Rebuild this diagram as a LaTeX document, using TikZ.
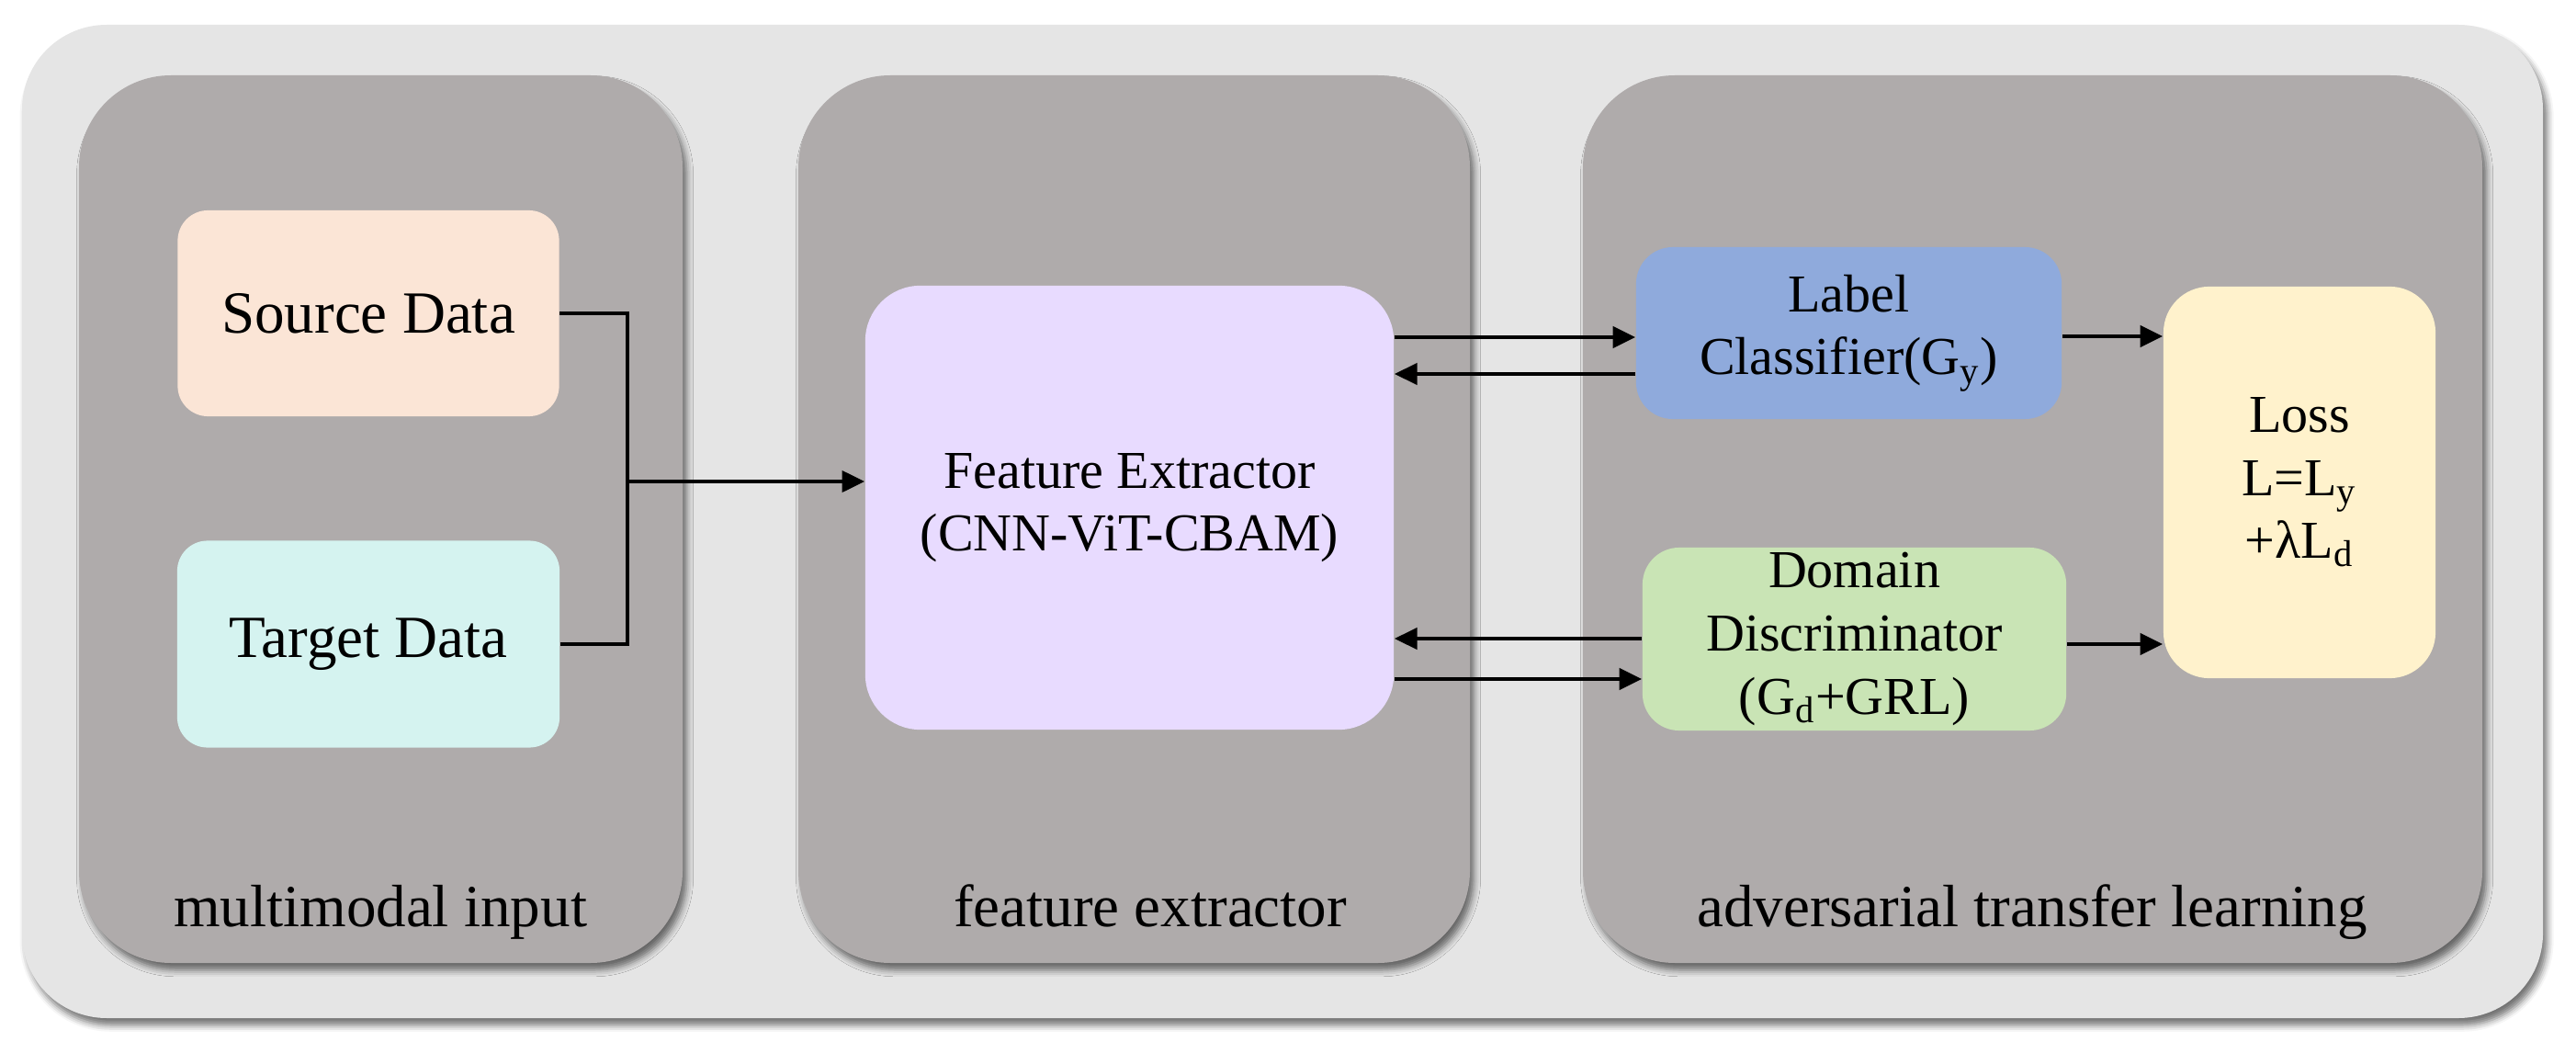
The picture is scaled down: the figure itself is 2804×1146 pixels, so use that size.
\documentclass[tikz,border=0pt]{standalone}
\usepackage{fontspec}
\setmainfont{Liberation Serif}
\usetikzlibrary{shadows.blur,arrows.meta}
\definecolor{outerfill}{HTML}{E5E5E5}
\definecolor{panelfill}{HTML}{AFABAB}
\definecolor{srcfill}{HTML}{FBE5D6}
\definecolor{tgtfill}{HTML}{D5F3F0}
\definecolor{fefill}{HTML}{E8DBFF}
\definecolor{lcfill}{HTML}{8FAADC}
\definecolor{ddfill}{HTML}{C9E4B5}
\definecolor{lossfill}{HTML}{FFF2CC}
\tikzset{
  shad/.style={blur shadow={shadow xshift=1.3pt,shadow yshift=-2.2pt,shadow blur radius=2pt,shadow opacity=55}},
  bigfont/.style={font=\fontsize{18.5}{22.2}\selectfont},
  boxfont/.style={font=\fontsize{16.5}{19.5}\selectfont},
  box/.style={draw=none,inner sep=0pt,align=center,boxfont},
  panellabel/.style={bigfont,anchor=base,inner sep=0pt},
  conn/.style={line width=1.3pt,black},
  arr/.style={conn,-{Triangle[length=7pt,width=6.5pt]}}
}
\begin{document}
\begin{tikzpicture}[x=0.01cm,y=-0.01cm]
\useasboundingbox (0,0) rectangle (2804,1146);
% outer frame
\fill[outerfill,rounded corners=0.92cm,shad] (24,27) rectangle (2768,1108);
% panels
\fill[panelfill,rounded corners=1cm,shad] (86,82) rectangle (743,1048);
\fill[panelfill,rounded corners=1cm,shad] (869,82) rectangle (1600,1048);
\fill[panelfill,rounded corners=1cm,shad] (1723,82) rectangle (2702,1048);
\node[panellabel] (p1) at (414,1008) {multimodal input};
\node[panellabel] (p2) at (1252,1008) {feature extractor};
\node[panellabel] (p3) at (2212,1008) {adversarial transfer learning};
% boxes
\node[box,bigfont,fill=srcfill,rounded corners=0.33cm,minimum width=4.15cm,minimum height=2.24cm] (S) at (401,341) {Source Data};
\node[box,bigfont,fill=tgtfill,rounded corners=0.33cm,minimum width=4.16cm,minimum height=2.25cm] (T) at (401,701) {Target Data};
\node[box,fill=fefill,rounded corners=0.6cm,minimum width=5.75cm,minimum height=4.83cm] (FE) at (1229.5,552.5) {Feature Extractor\\(CNN-ViT-CBAM)};
\node[box,fill=lcfill,rounded corners=0.4cm,minimum width=4.63cm,minimum height=1.87cm] (LC) at (2012.5,362.5) {Label\\Classifier(G\textsubscript{y})};
\node[box,fill=ddfill,rounded corners=0.4cm,minimum width=4.61cm,minimum height=1.99cm] (DD) at (2018.5,695.5) {Domain\\Discriminator\\(G\textsubscript{d}+GRL)};
\node[box,fill=lossfill,rounded corners=0.5cm,minimum width=2.96cm,minimum height=4.26cm] (L) at (2503,525) {Loss\\L=L\textsubscript{y}\\+λL\textsubscript{d}};
% connector levels
\coordinate (jn) at (683,524);
\coordinate (ya) at (0,367);
\coordinate (yb) at (0,407);
\coordinate (yc) at (0,695);
\coordinate (yd) at (0,739);
\coordinate (ye) at (0,366);
\coordinate (yf) at (0,701);
% connectors
\draw[conn] (S.east) -| (jn);
\draw[conn] (T.east) -| (jn);
\draw[arr] (jn) -- (FE.west |- jn);
\draw[arr] (FE.east |- ya) -- (LC.west |- ya);
\draw[arr] (LC.west |- yb) -- (FE.east |- yb);
\draw[arr] (DD.west |- yc) -- (FE.east |- yc);
\draw[arr] (FE.east |- yd) -- (DD.west |- yd);
\draw[arr] (LC.east |- ye) -- (L.west |- ye);
\draw[arr] (DD.east |- yf) -- (L.west |- yf);
\end{tikzpicture}
\end{document}
